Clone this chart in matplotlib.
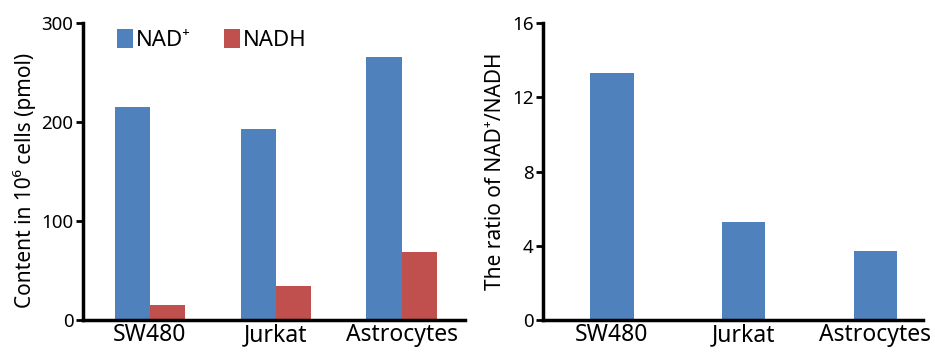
import numpy as np
import matplotlib.pyplot as plt

plt.rcParams['font.family'] = ['Noto Sans', 'DejaVu Sans']

cells = ["SW480", "Jurkat", "Astrocytes"]
nad = [215, 193, 266]
nadh = [15, 35, 69]
ratio = [13.3, 5.3, 3.75]

blue = '#4F81BD'
red = '#C0504D'

fig = plt.figure(figsize=(9.35, 3.52), dpi=100)
ax1 = fig.add_axes([0.089, 0.09, 0.408, 0.845])
ax2 = fig.add_axes([0.581, 0.09, 0.406, 0.845])

x = np.arange(len(cells))
w = 0.28
ax1.bar(x - w / 2, nad, w, color=blue, label="NAD⁺")
ax1.bar(x + w / 2, nadh, w, color=red, label="NADH")
ax1.set_xlim(-0.53, 2.5)
ax1.set_ylim(0, 300)
ax1.set_yticks([0, 100, 200, 300])
ax1.set_ylabel("Content in 10⁶ cells (pmol)", fontsize=15, labelpad=4, y=0.47)
ax1.legend(loc='upper left', bbox_to_anchor=(0.035, 1.045), ncol=2, frameon=False,
           fontsize=16, handlelength=0.75, handleheight=0.9, handletextpad=0.1,
           columnspacing=1.5)

ax2.bar(x, ratio, 0.33, color=blue)
ax2.set_xlim(-0.52, 2.36)
ax2.set_ylim(0, 16)
ax2.set_yticks([0, 4, 8, 12, 16])
ax2.set_ylabel("The ratio of NAD⁺/NADH", fontsize=15, labelpad=4)

for ax in (ax1, ax2):
    ax.set_xticks(x)
    ax.set_xticklabels(cells, fontsize=16.5)
    ax.tick_params(axis='x', length=0, pad=2)
    ax.tick_params(axis='y', labelsize=13.5, width=2, length=5, pad=2)
    for s in ('top', 'right'):
        ax.spines[s].set_visible(False)
    for s in ('left', 'bottom'):
        ax.spines[s].set_linewidth(2.5)

fig.savefig('out.png', dpi=100)
